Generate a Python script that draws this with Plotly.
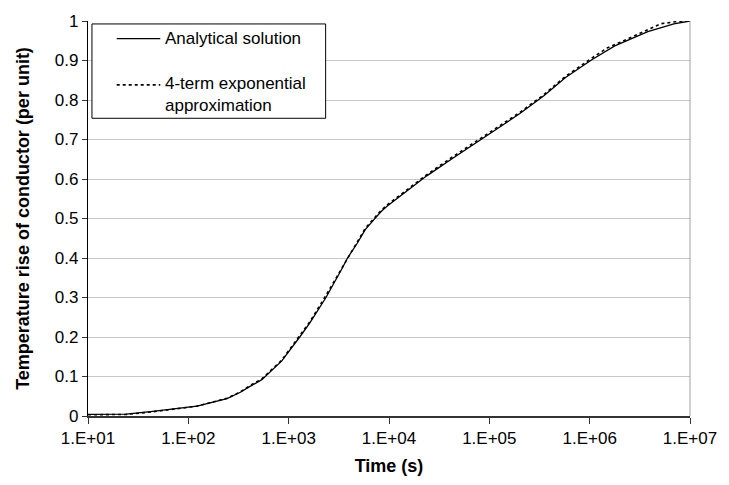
import plotly.graph_objects as go

# Analytical solution (time in s, temperature rise per unit)
analytical_time = [10, 24, 42, 98, 122, 243, 330, 400, 540, 850, 1070, 1290, 1620, 2190, 2355,
                   3300, 3860, 4840, 5800, 7080, 8300, 9550, 14000, 23800, 43600, 83000, 200000,
                   347000, 575000, 1050000, 1780000, 3800000, 6900000, 10000000]
analytical_value = [0.004, 0.005, 0.011, 0.022, 0.025, 0.044, 0.060, 0.073, 0.092, 0.139, 0.172,
                    0.200, 0.235, 0.289, 0.300, 0.367, 0.400, 0.438, 0.472, 0.497, 0.517, 0.531,
                    0.563, 0.608, 0.653, 0.700, 0.765, 0.810, 0.857, 0.902, 0.937, 0.973, 0.993,
                    1.000]

# 4-term exponential approximation
approx_time = [10, 24, 42, 98, 122, 243, 330, 400, 540, 850, 1070, 1290, 1620, 2190, 3300, 4840,
               5800, 7080, 8300, 9550, 14000, 23800, 43600, 83000, 200000, 347000, 575000,
               1050000, 1500000, 2090000, 3270000, 5100000, 7100000, 10000000]
approx_value = [0.003, 0.004, 0.010, 0.021, 0.025, 0.045, 0.061, 0.075, 0.094, 0.141, 0.175,
                0.203, 0.238, 0.292, 0.370, 0.441, 0.475, 0.500, 0.520, 0.534, 0.566, 0.611,
                0.657, 0.703, 0.768, 0.813, 0.860, 0.906, 0.932, 0.948, 0.970, 0.993, 0.998,
                1.000]

x_tickvals = [1e1, 1e2, 1e3, 1e4, 1e5, 1e6, 1e7]
x_ticktext = ["1.E+01", "1.E+02", "1.E+03", "1.E+04", "1.E+05", "1.E+06", "1.E+07"]
y_tickvals = [0, 0.1, 0.2, 0.3, 0.4, 0.5, 0.6, 0.7, 0.8, 0.9, 1.0]
y_ticktext = ["0", "0.1", "0.2", "0.3", "0.4", "0.5", "0.6", "0.7", "0.8", "0.9", "1"]

series_names = ["Analytical solution", "4-term exponential<br>approximation"]

FONT = "Liberation Sans, Arial, sans-serif"

fig = go.Figure()
fig.add_trace(go.Scatter(x=analytical_time, y=analytical_value, mode="lines",
                         name=series_names[0], line=dict(color="black", width=1.3),
                         showlegend=False))
fig.add_trace(go.Scatter(x=approx_time, y=approx_value, mode="lines",
                         name=series_names[1], line=dict(color="black", width=1.6, dash="dot"),
                         showlegend=False))

W, H = 729, 485
ml, mr, mt, mb = 88, 33, 14, 69
pw, ph = W - ml - mr, H - mt - mb

def px(xp):
    return (xp - ml) / pw

def py(yp):
    return (H - mb - yp) / ph

shapes = [
    # right plot-area border
    dict(type="line", xref="paper", yref="paper", x0=1, x1=1, y0=0, y1=1,
         line=dict(color="#a0a0a0", width=1)),
    # legend box
    dict(type="rect", xref="paper", yref="paper", x0=px(92), x1=px(328), y0=py(17), y1=py(113),
         line=dict(color="black", width=1), fillcolor="white", layer="above"),
    dict(type="line", xref="paper", yref="paper", x0=px(117), x1=px(161), y0=py(32), y1=py(32),
         line=dict(color="black", width=1.3), layer="above"),
    dict(type="line", xref="paper", yref="paper", x0=px(117), x1=px(161), y0=py(79), y1=py(79),
         line=dict(color="black", width=1.6, dash="dot"), layer="above"),
]
annotations = [
    dict(xref="paper", yref="paper", x=px(164), y=py(32), text=series_names[0],
         showarrow=False, xanchor="left", yanchor="middle", font=dict(size=17, color="black", family=FONT)),
    dict(xref="paper", yref="paper", x=px(164), y=py(89), text=series_names[1], align="left",
         showarrow=False, xanchor="left", yanchor="middle", font=dict(size=17, color="black", family=FONT)),
]

fig.update_layout(
    width=W, height=H,
    margin=dict(l=ml, r=mr, t=mt, b=mb),
    paper_bgcolor="white", plot_bgcolor="white",
    font=dict(family=FONT, size=17, color="black"),
    shapes=shapes, annotations=annotations,
    xaxis=dict(type="log", range=[1, 7], tickvals=x_tickvals, ticktext=x_ticktext,
               showgrid=False, zeroline=False, showline=True, linecolor="#333333", linewidth=1.6,
               ticks="outside", ticklen=6, tickcolor="#333333",
               tickfont=dict(size=17, family=FONT),
               title=dict(text="<b>Time (s)</b>", font=dict(size=18, family=FONT), standoff=12)),
    yaxis=dict(range=[0, 1], tickvals=y_tickvals, ticktext=y_ticktext,
               showgrid=True, gridcolor="#c8c8c8", gridwidth=1, zeroline=False,
               showline=True, linecolor="black", linewidth=1.3,
               ticks="outside", ticklen=5, tickcolor="#333333",
               tickfont=dict(size=17, family=FONT),
               title=dict(text="<b>Temperature rise of conductor (per unit)</b>",
                          font=dict(size=18, family=FONT), standoff=20)),
)

fig.write_html("out.html")
